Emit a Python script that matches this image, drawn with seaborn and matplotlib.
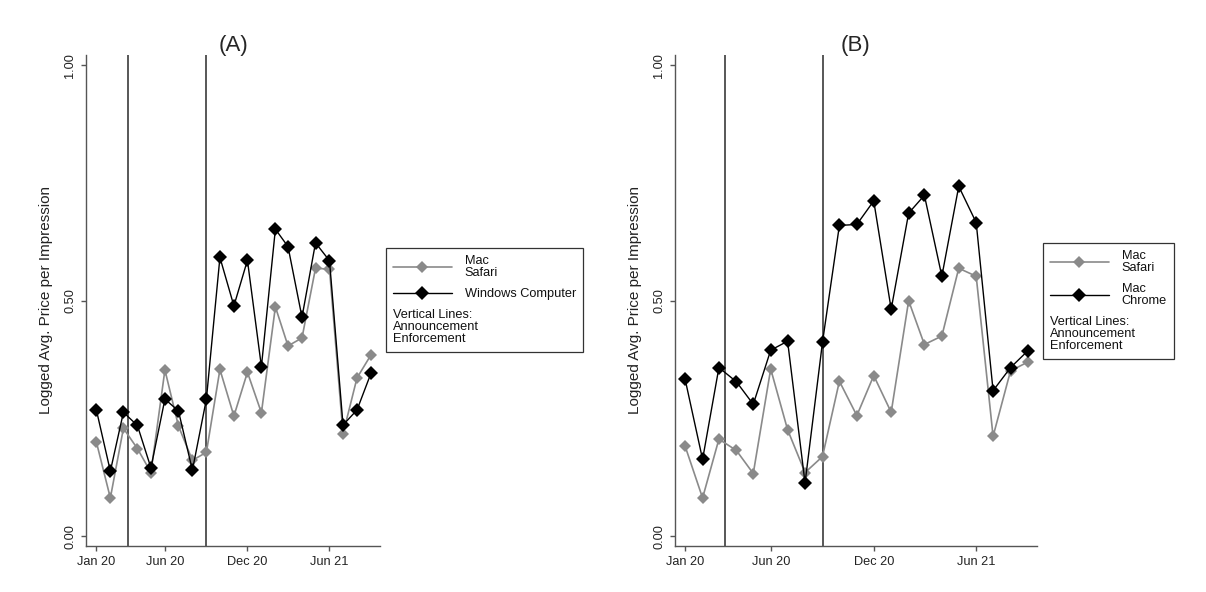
import matplotlib
matplotlib.use("Agg")
import matplotlib.pyplot as plt
import seaborn as sns
import pandas as pd

# ---------------- data ----------------
months = ["2020-01", "2020-02", "2020-03", "2020-04", "2020-05", "2020-06", "2020-07",
          "2020-08", "2020-09", "2020-10", "2020-11", "2020-12", "2021-01", "2021-02",
          "2021-03", "2021-04", "2021-05", "2021-06", "2021-07", "2021-08", "2021-09"]

a_mac_safari = [0.200, 0.081, 0.229, 0.186, 0.135, 0.353, 0.234, 0.161, 0.178, 0.354, 0.255,
                0.348, 0.262, 0.487, 0.404, 0.421, 0.569, 0.567, 0.217, 0.336, 0.385]
a_windows = [0.268, 0.138, 0.263, 0.235, 0.145, 0.291, 0.266, 0.140, 0.291, 0.592, 0.489,
             0.586, 0.360, 0.652, 0.615, 0.465, 0.623, 0.585, 0.236, 0.268, 0.346]

b_mac_safari = [0.191, 0.081, 0.206, 0.182, 0.133, 0.355, 0.226, 0.135, 0.169, 0.329, 0.256,
                0.341, 0.263, 0.500, 0.407, 0.425, 0.569, 0.552, 0.212, 0.351, 0.370]
b_mac_chrome = [0.333, 0.163, 0.358, 0.328, 0.280, 0.395, 0.414, 0.113, 0.412, 0.660, 0.662,
                0.712, 0.482, 0.686, 0.724, 0.552, 0.743, 0.666, 0.309, 0.358, 0.394]

panel_titles = ["(A)", "(B)"]
series_a = ["Mac\nSafari", "Windows Computer"]
series_b = ["Mac\nSafari", "Mac\nChrome"]
announcement = "2020-03-11"
enforcement = "2020-09-01"
tick_dates = ["2020-01-01", "2020-06-01", "2020-12-01", "2021-06-01"]
tick_labels = ["Jan 20", "Jun 20", "Dec 20", "Jun 21"]
y_ticks = [0.0, 0.5, 1.0]
y_tick_labels = ["0.00", "0.50", "1.00"]
y_label = "Logged Avg. Price per Impression"
legend_note = "Vertical Lines:\nAnnouncement\nEnforcement"

# ---------------- style ----------------
sns.set_theme(style="white")
plt.rcParams["font.family"] = ["Liberation Sans", "DejaVu Sans"]

GRAY = "#8a8a8a"
BLACK = "#000000"
SPINE = "#555555"

fig = plt.figure(figsize=(12.06, 5.92), dpi=100)
W, H = 1206, 592
axA = fig.add_axes([86 / W, 1 - 546 / H, (380 - 86) / W, (546 - 55) / H])
axB = fig.add_axes([675 / W, 1 - 546 / H, (1037 - 675) / W, (546 - 55) / H])

dates = pd.to_datetime(months)


def draw_panel(ax, title, s1, s2, names, xlim, legend_anchor):
    df1 = pd.DataFrame({"month": dates, "value": s1})
    df2 = pd.DataFrame({"month": dates, "value": s2})
    for d in (announcement, enforcement):
        ax.axvline(pd.Timestamp(d), color="#2a2a2a", lw=1.1, zorder=1)
    sns.lineplot(data=df1, x="month", y="value", ax=ax, color=GRAY, lw=1.2,
                 marker="D", markersize=6.6, markeredgewidth=0, label=names[0], zorder=3)
    sns.lineplot(data=df2, x="month", y="value", ax=ax, color=BLACK, lw=1.0,
                 marker="D", markersize=7.2, markeredgewidth=0, label=names[1], zorder=4)
    handles, labels = ax.get_legend_handles_labels()
    if ax.get_legend() is not None:
        ax.get_legend().remove()

    ax.set_xlim(pd.Timestamp(xlim[0]), pd.Timestamp(xlim[1]))
    ax.set_ylim(-0.021, 1.022)
    ax.set_xticks(pd.to_datetime(tick_dates))
    ax.set_xticklabels(tick_labels, fontsize=9.2, color="#222222")
    ax.set_yticks(y_ticks)
    ax.set_yticklabels(y_tick_labels, fontsize=9.2, color="#222222",
                       rotation=90, va="center")
    ax.set_xlabel("")
    ax.set_ylabel(y_label, fontsize=11, color="#222222", labelpad=8)
    ax.set_title(title, fontsize=16, pad=3)
    for side in ("top", "right"):
        ax.spines[side].set_visible(False)
    for side in ("left", "bottom"):
        ax.spines[side].set_color(SPINE)
        ax.spines[side].set_linewidth(1.0)
    ax.tick_params(axis="both", direction="out", length=3.6, width=1.0,
                   color=SPINE, pad=3.5, left=True, bottom=True)
    ax.grid(False)

    leg = fig.legend(handles, labels, loc="upper left", bbox_to_anchor=legend_anchor,
                     bbox_transform=fig.transFigure, fontsize=9.2,
                     title=legend_note, title_fontsize=9.2, alignment="left",
                     frameon=True, fancybox=False, framealpha=1, edgecolor="#333333",
                     borderpad=0.55, borderaxespad=0, handlelength=4.6,
                     handletextpad=1.0, labelspacing=0.72, numpoints=1)
    leg.get_frame().set_linewidth(0.9)
    for t in leg.get_texts():
        t.set_linespacing(1.0)
        t.set_color("#111111")
    leg.get_title().set_linespacing(1.0)
    leg.get_title().set_color("#111111")
    box = leg._legend_box
    box._children = box._children[::-1]


draw_panel(axA, panel_titles[0], a_mac_safari, a_windows, series_a,
           ("2019-12-09", "2021-09-21"), (386 / W, 1 - 248 / H))
draw_panel(axB, panel_titles[1], b_mac_safari, b_mac_chrome, series_b,
           ("2019-12-14", "2021-09-17"), (1043 / W, 1 - 243 / H))

fig.savefig("out.png", dpi=100)
